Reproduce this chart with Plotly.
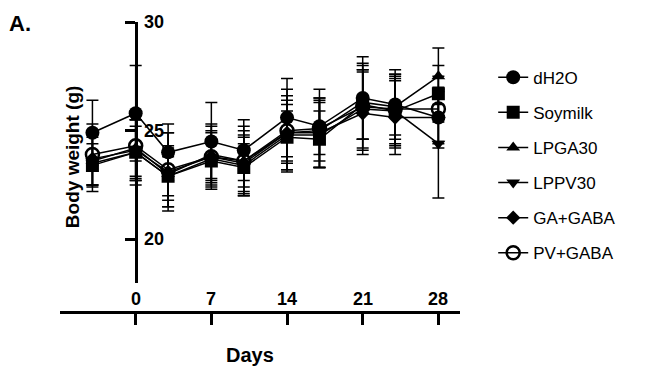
import plotly.graph_objects as go

days = [-4, 0, 3, 7, 10, 14, 17, 21, 24, 28]

groups = ["dH2O", "Soymilk", "LPGA30", "LPPV30", "GA+GABA", "PV+GABA"]

dh2o = [24.9, 25.8, 24.0, 24.5, 24.1, 25.6, 25.2, 26.5, 26.2, 25.6]
soymilk = [23.4, 24.0, 22.9, 23.6, 23.3, 24.7, 24.6, 26.2, 25.9, 26.7]
lpga30 = [23.6, 24.2, 23.0, 23.9, 23.6, 24.9, 25.0, 26.3, 26.1, 27.5]
lppv30 = [23.5, 24.0, 22.9, 23.7, 23.4, 24.8, 24.8, 26.0, 25.9, 24.4]
ga_gaba = [23.7, 24.1, 23.1, 23.8, 23.5, 24.9, 24.9, 25.8, 25.6, 25.6]
pv_gaba = [23.9, 24.3, 23.2, 23.8, 23.6, 25.0, 25.1, 26.1, 26.0, 26.0]

sd_dh2o = [1.5, 2.2, 1.3, 1.8, 1.4, 1.8, 1.3, 1.9, 1.4, 1.2]
sd_soymilk = [1.0, 1.2, 0.9, 1.0, 1.1, 1.2, 1.3, 1.6, 1.5, 1.3]
sd_lpga30 = [1.1, 1.3, 1.2, 1.1, 1.2, 1.3, 1.4, 1.7, 1.5, 1.3]
sd_lppv30 = [1.3, 1.5, 1.4, 1.2, 1.3, 1.6, 1.5, 1.8, 1.6, 2.5]
sd_ga_gaba = [1.2, 1.4, 1.8, 1.4, 1.5, 1.7, 1.6, 1.9, 1.7, 1.4]
sd_pv_gaba = [1.4, 1.6, 1.7, 1.5, 1.6, 1.9, 1.8, 2.0, 1.8, 1.5]

means = [dh2o, soymilk, lpga30, lppv30, ga_gaba, pv_gaba]
sds = [sd_dh2o, sd_soymilk, sd_lpga30, sd_lppv30, sd_ga_gaba, sd_pv_gaba]
symbols = ["circle", "square", "triangle-up", "triangle-down", "diamond", "circle-open"]
sizes = [14, 13, 12, 12, 11, 13]

x_ticks = [0, 7, 14, 21, 28]
y_ticks = [20, 25, 30]

FONT = "Liberation Sans"
TICKFONT = dict(size=18, family=FONT, weight="bold", color="black")

fig = go.Figure()
for name, m, s, sym, sz in zip(groups, means, sds, symbols, sizes):
    fig.add_trace(go.Scatter(
        x=days, y=m, name=name, mode="lines+markers",
        legendgroup=name,
        line=dict(color="black", width=1.5),
        marker=dict(symbol=sym, size=sz, color="black",
                    line=dict(color="black", width=2.5 if sym == "circle-open" else 0)),
        error_y=dict(type="data", array=s, visible=True, color="black",
                     thickness=1.5, width=6),
    ))

annotations = []
for t in x_ticks:
    annotations.append(dict(text=str(t), x=t, y=0, xref="x", yref="paper",
                            showarrow=False, xanchor="center", yanchor="bottom",
                            yshift=1, font=TICKFONT))
for t in y_ticks:
    annotations.append(dict(text=str(t), x=0, y=t, xref="x", yref="y",
                            showarrow=False, xanchor="left", yanchor="middle",
                            xshift=6, font=TICKFONT))
annotations += [
    dict(text="A.", x=-0.1, y=1.046, xref="paper", yref="paper", showarrow=False,
         xanchor="center", yanchor="top",
         font=dict(size=22, family=FONT, weight="bold")),
    dict(text="Body weight (g)", textangle=-90, x=0.03, y=0.534,
         xref="paper", yref="paper", showarrow=False,
         xanchor="center", yanchor="middle",
         font=dict(size=19, family=FONT, weight="bold")),
    dict(text="Days", x=0.475, y=-0.148, xref="paper", yref="paper",
         showarrow=False, xanchor="center", yanchor="middle",
         font=dict(size=20, family=FONT, weight="bold")),
]

fig.update_layout(
    width=642, height=369,
    margin=dict(l=52, r=190, t=14, b=65, autoexpand=False),
    paper_bgcolor="white", plot_bgcolor="white",
    font=dict(family=FONT, color="black"),
    showlegend=True,
    legend=dict(x=1.083, y=0.87, xanchor="left", yanchor="top",
                font=dict(size=17, family=FONT), tracegroupgap=10,
                bgcolor="rgba(0,0,0,0)"),
    xaxis=dict(range=[-7, 30], showgrid=False, zeroline=False,
               showline=True, linecolor="black", linewidth=3,
               tickvals=x_ticks, ticks="outside", ticklen=11, tickwidth=3,
               tickcolor="black", showticklabels=False,
               anchor="free", position=0),
    yaxis=dict(range=[18, 30], domain=[0.101, 1], showgrid=False, zeroline=False,
               showline=True, linecolor="black", linewidth=3,
               tickvals=y_ticks, ticks="outside", ticklen=10, tickwidth=3,
               tickcolor="black", showticklabels=False,
               anchor="free", position=7 / 37),
    annotations=annotations,
)

fig.write_html("out.html")
